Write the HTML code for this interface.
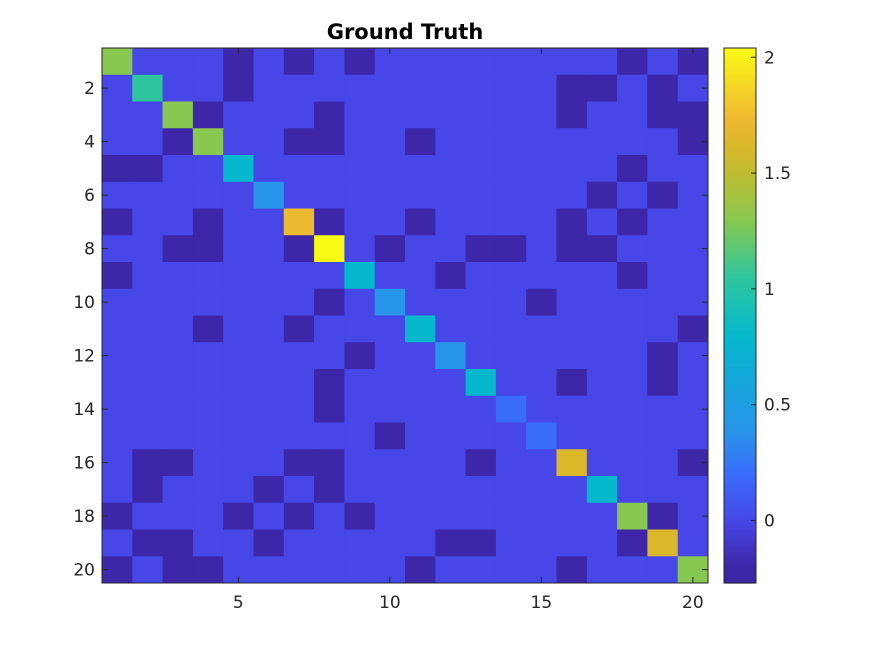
<!DOCTYPE html>
<html><head><meta charset="utf-8"><style>
body{margin:0;background:#fff;}
svg{display:block;font-family:"DejaVu Sans","Liberation Sans",sans-serif;}
</style></head><body>
<svg id="chart" width="874" height="656"></svg>
<script>
const D=-0.2;
const rowLabels=[1,2,3,4,5,6,7,8,9,10,11,12,13,14,15,16,17,18,19,20];
const yTicks=[2,4,6,8,10,12,14,16,18,20];
const xTicks=[5,10,15,20];
const cbTicks=[0,0.5,1,1.5,2];
const diagValues=[1.3,1.05,1.3,1.3,0.8,0.4,1.72,2.04,0.8,0.4,0.8,0.4,0.8,0.2,0.2,1.62,0.8,1.3,1.62,1.3];
const darkCells=[
[5,7,9,18,20],
[5,16,17,19],
[4,8,16,19,20],
[3,7,8,11,20],
[1,2,18],
[17,19],
[1,4,8,11,16,18],
[3,4,7,10,13,14,16,17],
[1,12,18],
[8,15],
[4,7,20],
[9,19],
[8,16,19],
[8],
[10],
[2,3,7,8,13,20],
[2,6,8],
[1,5,7,9,19],
[2,3,6,12,13,18],
[1,3,4,11,16]
];
const vmin=-0.27,vmax=2.04;
const stops=[[-0.27,[61,38,168]],[-0.2,[61,38,168]],[0,[71,71,232]],[0.2,[58,108,250]],[0.4,[40,150,232]],[0.8,[5,184,204]],[1.05,[47,198,159]],[1.3,[136,200,80]],[1.5,[190,188,50]],[1.62,[219,184,42]],[1.75,[240,186,50]],[2.04,[249,250,20]]];
function color(v){
  if(v<=stops[0][0])return `rgb(${stops[0][1]})`;
  for(let i=1;i<stops.length;i++){
    if(v<=stops[i][0]){const a=stops[i-1],b=stops[i];const t=(v-a[0])/(b[0]-a[0]);
      return `rgb(${a[1].map((c,k)=>Math.round(c+(b[1][k]-c)*t)).join(',')})`;}
  }
  return `rgb(${stops[stops.length-1][1]})`;
}
const X0=102,X1=708,Y0=48,Y1=583,N=20;
const cw=(X1-X0)/N,ch=(Y1-Y0)/N;
const xs=c=>X0+(c-0.5)*cw, ys=r=>Y0+(r-0.5)*ch;
const svg=document.getElementById('chart');
const NS='http://www.w3.org/2000/svg';
function mk(t,a){const e=document.createElementNS(NS,t);for(const k in a)e.setAttribute(k,a[k]);svg.appendChild(e);return e;}
for(let r=1;r<=N;r++){for(let c=1;c<=N;c++){
  let v=0; if(r===c)v=diagValues[r-1]; else if(darkCells[r-1].includes(c))v=D;
  const e=mk('rect',{x:xs(c)-cw/2,y:ys(r)-ch/2,width:cw+0.5,height:ch+0.5,fill:color(v)});
  
  
}}
const ax=mk('rect',{x:X0,y:Y0,width:X1-X0,height:Y1-Y0,fill:'none',stroke:'#262626','stroke-width':1});

yTicks.forEach(t=>{const y=ys(t);
  mk('line',{x1:X0,x2:X0+6,y1:y,y2:y,stroke:'#262626'});mk('line',{x1:X1,x2:X1-6,y1:y,y2:y,stroke:'#262626'});
  const e=mk('text',{x:X0-7,y:y+6,'text-anchor':'end','font-size':17,fill:'#262626'});e.textContent=t;
  });
xTicks.forEach(t=>{const x=xs(t);
  mk('line',{x1:x,x2:x,y1:Y1,y2:Y1-6,stroke:'#262626'});mk('line',{x1:x,x2:x,y1:Y0,y2:Y0+6,stroke:'#262626'});
  const e=mk('text',{x:x,y:Y1+25,'text-anchor':'middle','font-size':17,fill:'#262626'});e.textContent=t;
  });
const ti=mk('text',{x:405,y:39,'text-anchor':'middle','font-size':21,'font-weight':'bold',fill:'#000'});ti.textContent='Ground Truth';

const CX0=724,CX1=756;
const cy=v=>Y1-(v-vmin)/(vmax-vmin)*(Y1-Y0);
for(let i=0;i<200;i++){const v0=vmin+(vmax-vmin)*i/200,v1=vmin+(vmax-vmin)*(i+1)/200;
  mk('rect',{x:CX0,y:cy(v1),width:CX1-CX0,height:cy(v0)-cy(v1)+0.6,fill:color((v0+v1)/2)});}
const cb=mk('rect',{x:CX0,y:Y0,width:CX1-CX0,height:Y1-Y0,fill:'none',stroke:'#262626'});

cbTicks.forEach(t=>{const y=cy(t);
  mk('line',{x1:CX1,x2:CX1-5,y1:y,y2:y,stroke:'#262626'});
  const e=mk('text',{x:CX1+8,y:y+6,'font-size':17,fill:'#262626'});e.textContent=t;
  });
</script>
</body></html>
